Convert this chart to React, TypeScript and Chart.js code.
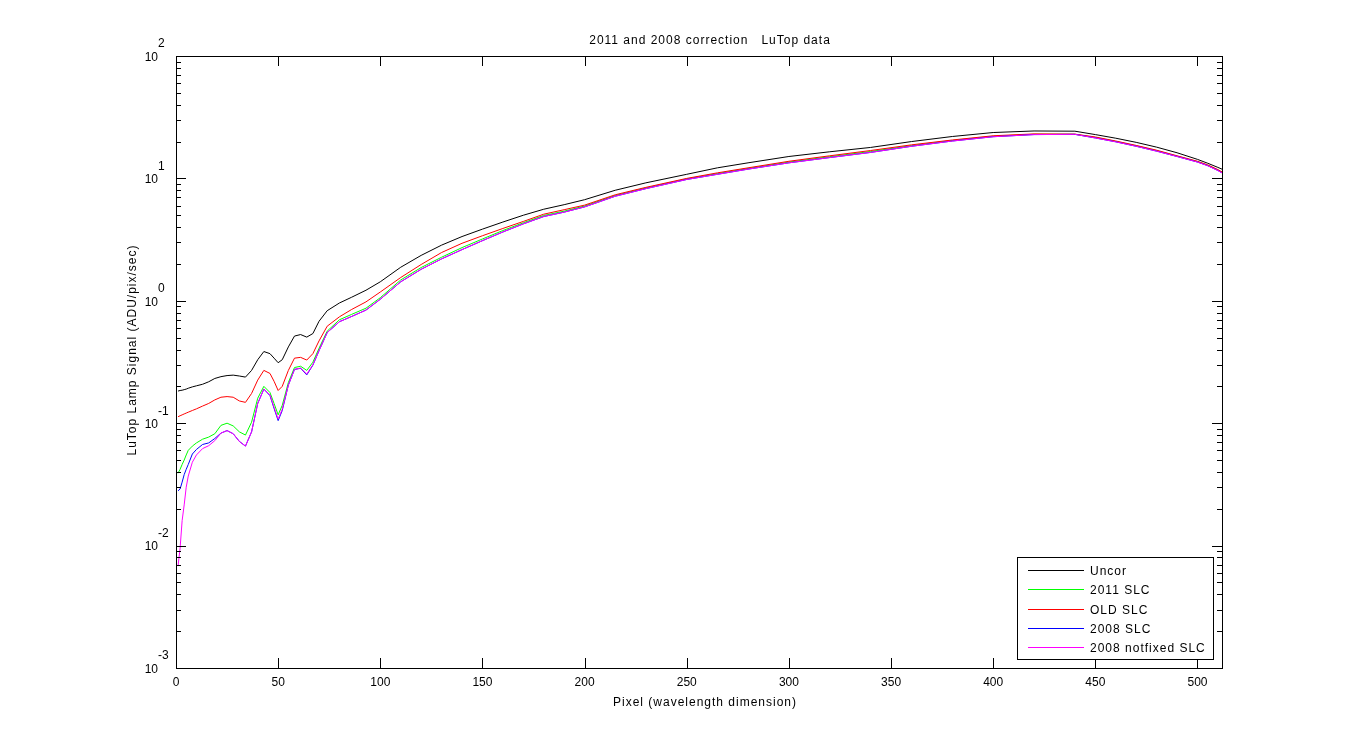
import React, { useEffect, useRef } from "react";
import { Chart, registerables } from "chart.js";

Chart.register(...registerables);

// ---------- data ----------
const pixels = [1, 2, 3, 4, 5, 6, 8, 10, 13, 16, 19, 22, 25, 28, 31, 34, 37, 40, 43, 46, 48, 50, 52, 55, 58, 61, 64, 67, 70, 74, 80, 86, 93, 100, 110, 120, 130, 140, 150, 160, 170, 180, 190, 200, 215, 230, 250, 265, 280, 300, 320, 340, 360, 380, 400, 420, 440, 450, 460, 470, 480, 490, 500, 505, 510, 512];

const uncor = [0.183, 0.185, 0.186, 0.188, 0.19, 0.193, 0.198, 0.202, 0.208, 0.218, 0.232, 0.24, 0.245, 0.247, 0.243, 0.238, 0.27, 0.33, 0.385, 0.37, 0.34, 0.312, 0.33, 0.42, 0.515, 0.53, 0.505, 0.54, 0.68, 0.83, 0.96, 1.07, 1.22, 1.43, 1.88, 2.35, 2.85, 3.35, 3.85, 4.4, 5.0, 5.6, 6.1, 6.7, 8.0, 9.2, 10.8, 12.2, 13.4, 15.1, 16.5, 17.9, 20.0, 22.0, 23.7, 24.4, 24.3, 22.8, 21.3, 19.7, 18.0, 16.2, 14.3, 13.3, 12.3, 11.9];

const slc2011 = [0.039, 0.042, 0.046, 0.05, 0.055, 0.06, 0.065, 0.069, 0.074, 0.077, 0.082, 0.096, 0.1, 0.095, 0.085, 0.08, 0.102, 0.16, 0.2, 0.178, 0.145, 0.117, 0.14, 0.215, 0.285, 0.292, 0.27, 0.315, 0.409, 0.565, 0.7, 0.775, 0.87, 1.06, 1.48, 1.87, 2.27, 2.72, 3.2, 3.75, 4.34, 4.98, 5.4, 5.95, 7.25, 8.35, 9.9, 10.95, 12.05, 13.6, 15.05, 16.6, 18.55, 20.4, 22.1, 22.95, 22.95, 21.6, 20.05, 18.45, 16.85, 15.2, 13.7, 12.8, 11.7, 11.2];

const oldSlc = [0.113, 0.115, 0.117, 0.119, 0.121, 0.123, 0.127, 0.131, 0.138, 0.145, 0.155, 0.163, 0.165, 0.163, 0.152, 0.148, 0.175, 0.225, 0.27, 0.255, 0.22, 0.185, 0.2, 0.27, 0.34, 0.345, 0.328, 0.37, 0.47, 0.62, 0.74, 0.85, 0.98, 1.18, 1.55, 1.98, 2.48, 2.95, 3.4, 3.9, 4.45, 5.1, 5.55, 6.05, 7.35, 8.45, 10.0, 11.1, 12.2, 13.8, 15.3, 16.9, 18.8, 20.6, 22.3, 23.1, 23.0, 21.8, 20.2, 18.6, 17.0, 15.3, 13.8, 12.9, 11.8, 11.3];

const slc2008 = [0.028, 0.029, 0.033, 0.038, 0.042, 0.046, 0.056, 0.061, 0.067, 0.069, 0.075, 0.083, 0.087, 0.082, 0.071, 0.065, 0.085, 0.145, 0.19, 0.168, 0.132, 0.105, 0.127, 0.205, 0.275, 0.281, 0.248, 0.298, 0.391, 0.55, 0.675, 0.745, 0.84, 1.03, 1.43, 1.81, 2.2, 2.62, 3.1, 3.65, 4.25, 4.88, 5.3, 5.85, 7.15, 8.25, 9.8, 10.8, 11.9, 13.4, 14.8, 16.3, 18.3, 20.2, 21.9, 22.8, 22.9, 21.4, 19.9, 18.3, 16.7, 15.1, 13.6, 12.7, 11.6, 11.1];

const slc2008NotFixed = [0.0068, 0.0095, 0.016, 0.0215, 0.03, 0.037, 0.048, 0.055, 0.062, 0.0655, 0.072, 0.083, 0.087, 0.082, 0.071, 0.065, 0.085, 0.145, 0.19, 0.17, 0.135, 0.108, 0.13, 0.205, 0.275, 0.282, 0.252, 0.3, 0.391, 0.55, 0.675, 0.745, 0.84, 1.03, 1.43, 1.81, 2.2, 2.62, 3.1, 3.65, 4.25, 4.88, 5.3, 5.85, 7.15, 8.25, 9.8, 10.8, 11.9, 13.4, 14.8, 16.3, 18.3, 20.2, 21.9, 22.8, 22.9, 21.4, 19.9, 18.3, 16.7, 15.1, 13.6, 12.7, 11.6, 11.1];

const seriesLabels = ["Uncor", "2011 SLC", "OLD SLC", "2008 SLC", "2008 notfixed SLC"];
const seriesColors = ["#000000", "#00ff00", "#ff0000", "#0000ff", "#ff00ff"];
const seriesValues = [uncor, slc2011, oldSlc, slc2008, slc2008NotFixed];

const xTickValues = [0, 50, 100, 150, 200, 250, 300, 350, 400, 450, 500];
const xTickLabels = ["0", "50", "100", "150", "200", "250", "300", "350", "400", "450", "500"];
const yDecades = [0.001, 0.01, 0.1, 1, 10, 100];
const yExponents = ["-3", "-2", "-1", "0", "1", "2"];

const titleText = "2011 and 2008 correction   LuTop data";
const xTitle = "Pixel (wavelength dimension)";
const yTitle = "LuTop Lamp Signal (ADU/pix/sec)";

const FONT = "12px 'Liberation Sans', Arial, Helvetica, sans-serif";
const SMALL_FONT = "12px 'Liberation Sans', Arial, Helvetica, sans-serif";

function spacedText(ctx: CanvasRenderingContext2D, text: string, x: number, y: number, align: "left" | "center" | "right", spacing: number) {
  (ctx as any).letterSpacing = spacing + "px";
  const w = ctx.measureText(text).width;
  let lx = x;
  if (align === "center") lx = x - w / 2;
  else if (align === "right") lx = x - w;
  ctx.textAlign = "left";
  ctx.fillText(text, lx, y);
  (ctx as any).letterSpacing = "0px";
}

const matlabAxes = {
  id: "matlabAxes",
  afterDraw(chart: any) {
    const { ctx, chartArea: a, scales } = chart;
    const xs = scales.x;
    const ys = scales.y;
    ctx.save();
    ctx.strokeStyle = "#000";
    ctx.fillStyle = "#000";
    ctx.lineWidth = 1;

    // box
    ctx.strokeRect(a.left + 0.5, a.top + 0.5, a.right - a.left, a.bottom - a.top);

    // x ticks
    ctx.beginPath();
    xTickValues.forEach((v) => {
      const px = Math.round(xs.getPixelForValue(v)) + 0.5;
      ctx.moveTo(px, a.bottom);
      ctx.lineTo(px, a.bottom - 10);
      ctx.moveTo(px, a.top);
      ctx.lineTo(px, a.top + 10);
    });
    // y ticks
    yDecades.forEach((d, i) => {
      const py = Math.round(ys.getPixelForValue(d)) + 0.5;
      ctx.moveTo(a.left, py);
      ctx.lineTo(a.left + 10, py);
      ctx.moveTo(a.right, py);
      ctx.lineTo(a.right - 10, py);
      if (i < yDecades.length - 1) {
        for (let m = 2; m <= 9; m++) {
          const pm = Math.round(ys.getPixelForValue(d * m)) + 0.5;
          ctx.moveTo(a.left, pm);
          ctx.lineTo(a.left + 5, pm);
          ctx.moveTo(a.right, pm);
          ctx.lineTo(a.right - 5, pm);
        }
      }
    });
    ctx.stroke();

    // x tick labels
    ctx.font = FONT;
    ctx.textBaseline = "middle";
    xTickValues.forEach((v, i) => {
      const px = xs.getPixelForValue(v);
      spacedText(ctx, xTickLabels[i], px, a.bottom + 15, "center", 0);
    });

    // y tick labels 10^n
    yDecades.forEach((d, i) => {
      const py = ys.getPixelForValue(d);
      ctx.font = FONT;
      spacedText(ctx, "10", a.left - 18, py + 1.5, "right", 0);
      ctx.font = SMALL_FONT;
      spacedText(ctx, yExponents[i], a.left - 18, py - 12, "left", 0);
    });

    // title
    ctx.font = FONT;
    const cx = (a.left + a.right) / 2;
    spacedText(ctx, titleText, cx + 11, a.top - 15, "center", 1);
    // x label
    spacedText(ctx, xTitle, cx + 6, a.bottom + 35, "center", 1);
    // y label
    ctx.save();
    ctx.translate(a.left - 43, (a.top + a.bottom) / 2 - 12);
    ctx.rotate(-Math.PI / 2);
    spacedText(ctx, yTitle, 0, 0, "center", 1);
    ctx.restore();

    // legend
    const lw = 196;
    const lh = 102;
    const lx = a.right - 9 - lw;
    const ly = a.bottom - 9 - lh;
    ctx.fillStyle = "#fff";
    ctx.fillRect(lx, ly, lw, lh);
    ctx.strokeStyle = "#000";
    ctx.strokeRect(lx + 0.5, ly + 0.5, lw, lh);
    chart.data.datasets.forEach((ds: any, i: number) => {
      const ry = Math.round(ly + 13 + i * 19.25) + 0.5;
      ctx.strokeStyle = ds.borderColor;
      ctx.beginPath();
      ctx.moveTo(lx + 11, ry);
      ctx.lineTo(lx + 67, ry);
      ctx.stroke();
      ctx.fillStyle = "#000";
      ctx.font = FONT;
      ctx.textBaseline = "middle";
      spacedText(ctx, ds.label, lx + 73, ry + 1, "left", 1);
    });
    ctx.restore();
  },
};

export default function App() {
  const ref = useRef<HTMLCanvasElement | null>(null);
  useEffect(() => {
    if (!ref.current) return;
    const datasets = seriesLabels.map((label, i) => ({
      label,
      data: pixels.map((p, j) => ({ x: p, y: seriesValues[i][j] })),
      borderColor: seriesColors[i],
      backgroundColor: seriesColors[i],
      borderWidth: 1,
      pointRadius: 0,
      tension: 0,
      fill: false,
      order: seriesLabels.length - i,
    }));
    const chart = new Chart(ref.current, {
      type: "line",
      data: { datasets },
      options: {
        animation: false,
        responsive: false,
        devicePixelRatio: 1,
        layout: { padding: { left: 176, right: 128, top: 56, bottom: 82 } },
        plugins: { legend: { display: false }, title: { display: false }, tooltip: { enabled: false } },
        scales: {
          x: { type: "linear", min: 0, max: 512, display: false },
          y: { type: "logarithmic", min: 0.001, max: 100, display: false },
        },
      },
      plugins: [matlabAxes],
    } as any);
    return () => chart.destroy();
  }, []);
  return (
    <div style={{ position: "fixed", left: 0, top: 0, width: 1350, height: 750, background: "#fff" }}>
      <canvas ref={ref} width={1350} height={750} style={{ display: "block", width: 1350, height: 750 }} />
    </div>
  );
}
